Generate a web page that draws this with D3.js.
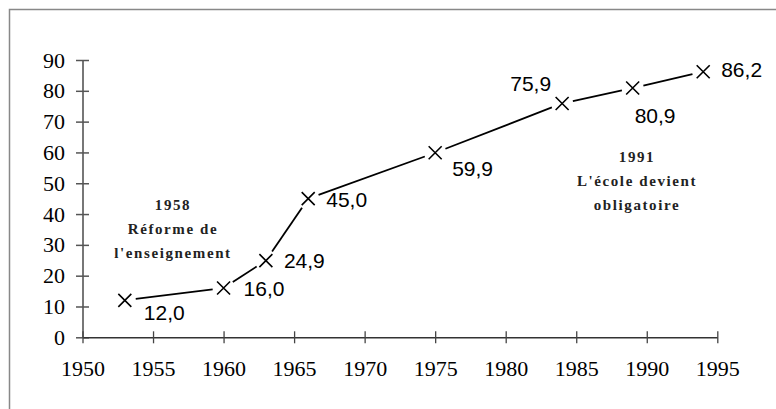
<!DOCTYPE html>
<html>
<head>
<meta charset="utf-8">
<script src="https://cdn.jsdelivr.net/npm/d3@7"></script>
<style>
  body { margin: 0; background: #fff; }
</style>
</head>
<body>
<div id="chart"></div>
<script>
// data
var years = [1953, 1960, 1963, 1966, 1975, 1984, 1989, 1994];
var rates = [12.0, 16.0, 24.9, 45.0, 59.9, 75.9, 80.9, 86.2];
var rateLabels = ["12,0", "16,0", "24,9", "45,0", "59,9", "75,9", "80,9", "86,2"];
var xTicks = [1950, 1955, 1960, 1965, 1970, 1975, 1980, 1985, 1990, 1995];
var yTicks = [0, 10, 20, 30, 40, 50, 60, 70, 80, 90];
var noteLeft = ["1958", "Réforme de", "l'enseignement"];
var noteRight = ["1991", "L'école devient", "obligatoire"];

// where each value label sits relative to its marker (anchor, dx, dy)
var labelPlace = [
  ["start", 19, 20], ["start", 20, 8], ["start", 18, 7], ["start", 18, 8],
  ["start", 17, 23], ["end", -11, -12], ["start", 2, 35], ["start", 18, 5]
];

var W = 776, H = 409;
var svg = d3.select("#chart").append("svg")
    .attr("width", W)
    .attr("height", H);

// outer frame
svg.append("rect")
  .attr("x", 9.5).attr("y", 9.5)
  .attr("width", W + 20).attr("height", H + 20)
  .attr("fill", "none")
  .attr("stroke", "#888")
  .attr("stroke-width", 1.5);

var x = d3.scaleLinear().domain([1950, 1995]).range([82.5, 717.3]);
var y = d3.scaleLinear().domain([0, 90]).range([337.3, 60]);

// y axis
var axY = svg.append("g")
  .attr("transform", "translate(" + x(1950) + ",0)")
  .call(d3.axisLeft(y).tickValues(yTicks).tickFormat(d3.format("d")).tickSizeOuter(0));
axY.select(".domain").attr("stroke", "#777").attr("stroke-width", 2);
axY.selectAll(".tick line").attr("x1", -6.5).attr("x2", 6.5).attr("stroke", "#555").attr("stroke-width", 1.5);
axY.selectAll(".tick text")
  .attr("x", -17.5)
  .attr("font-family", "'Liberation Serif', 'Times New Roman', serif")
  .attr("font-size", 22)
  .attr("fill", "#000");

// x axis
var axX = svg.append("g")
  .attr("transform", "translate(0," + y(0) + ")")
  .call(d3.axisBottom(x).tickValues(xTicks).tickFormat(d3.format("d")).tickSizeOuter(0));
axX.select(".domain").attr("stroke", "#333").attr("stroke-width", 1.5);
axX.selectAll(".tick line").attr("y1", -6).attr("y2", 6).attr("stroke", "#444").attr("stroke-width", 1.3);
axX.selectAll(".tick text")
  .attr("y", 39).attr("dy", 0)
  .attr("font-family", "'Liberation Serif', 'Times New Roman', serif")
  .attr("font-size", 22)
  .attr("fill", "#000");

var pts = years.map(function(yr, i) { return { x: x(yr), y: y(rates[i]), i: i }; });

// line segments, stopping short of the markers
var gap = 11;
svg.append("g").selectAll("line")
  .data(d3.pairs(pts))
  .enter()
  .append("line")
    .each(function(s) {
      var a = s[0], b = s[1];
      var dx = b.x - a.x, dy = b.y - a.y, len = Math.sqrt(dx * dx + dy * dy);
      var ux = dx / len, uy = dy / len;
      d3.select(this)
        .attr("x1", a.x + ux * gap).attr("y1", a.y + uy * gap)
        .attr("x2", b.x - ux * gap).attr("y2", b.y - uy * gap);
    })
    .attr("stroke", "#000")
    .attr("stroke-width", 1.8);

// X markers
var m = 6.5;
svg.append("g").selectAll("path")
  .data(pts)
  .enter()
  .append("path")
    .attr("d", function(p) {
      return "M" + (p.x - m) + "," + (p.y - m) + "L" + (p.x + m) + "," + (p.y + m) +
             "M" + (p.x - m) + "," + (p.y + m) + "L" + (p.x + m) + "," + (p.y - m);
    })
    .attr("fill", "none")
    .attr("stroke", "#000")
    .attr("stroke-width", 1.6);

// value labels
svg.append("g").selectAll("text")
  .data(pts)
  .enter()
  .append("text")
    .attr("x", function(p) { return p.x + labelPlace[p.i][1]; })
    .attr("y", function(p) { return p.y + labelPlace[p.i][2]; })
    .attr("text-anchor", function(p) { return labelPlace[p.i][0]; })
    .attr("font-family", "'Liberation Sans', Arial, sans-serif")
    .attr("font-size", 21)
    .attr("fill", "#000")
    .text(function(p) { return rateLabels[p.i]; });

// annotations
function note(lines, cx, baseY) {
  svg.append("g").selectAll("text")
    .data(lines)
    .enter()
    .append("text")
      .attr("x", cx)
      .attr("y", function(d, i) { return baseY + i * 24; })
      .attr("text-anchor", "middle")
      .attr("font-family", "'Liberation Serif', 'Times New Roman', serif")
      .attr("font-size", 15)
      .attr("font-weight", "bold")
      .attr("letter-spacing", 1.6)
      .attr("fill", "#222")
      .text(function(d) { return d; });
}
note(noteLeft, 173, 210);
note(noteRight, 637, 162);
</script>
</body>
</html>
